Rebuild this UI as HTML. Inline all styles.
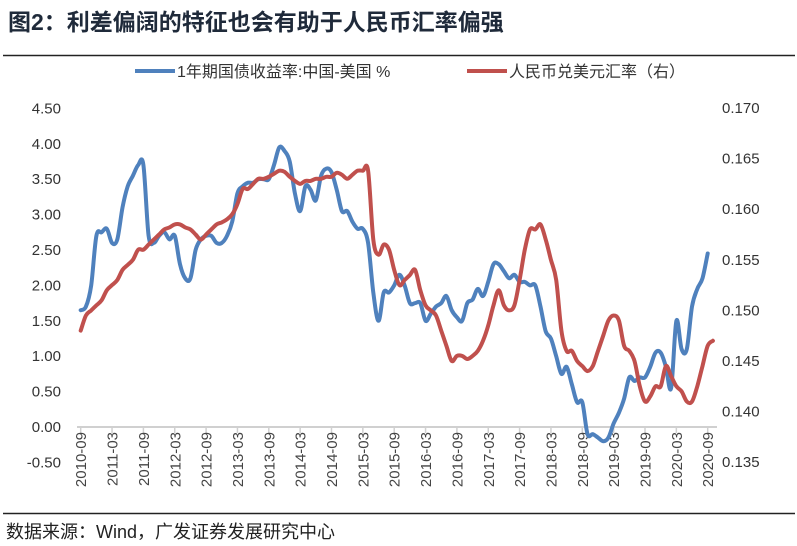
<!DOCTYPE html>
<html><head><meta charset="utf-8"><style>
body{margin:0;background:#fff;}
svg{display:block;font-family:"Liberation Sans","Noto Sans CJK SC",sans-serif;}
</style></head><body>
<svg id="chart" width="797" height="546">
<text x="8" y="30" font-size="23" font-weight="bold" fill="#1f2a3a">图2：利差偏阔的特征也会有助于人民币汇率偏强</text>
<line x1="3" y1="55.5" x2="795" y2="55.5" stroke="#222" stroke-width="1.5"/>
<g>
<g><line x1="135" y1="71" x2="175" y2="71" stroke="#4f81bd" stroke-width="4"/><text x="177" y="77" font-size="16" fill="#333">1年期国债收益率:中国-美国 %</text></g>
<g><line x1="467" y1="71" x2="507" y2="71" stroke="#c0504d" stroke-width="4"/><text x="509" y="77" font-size="16" fill="#333">人民币兑美元汇率（右）</text></g>
</g>
<g id="axes"></g>
<g id="series"></g>
<line x1="3" y1="513.5" x2="795" y2="513.5" stroke="#222" stroke-width="1.5"/>
<text x="6" y="538" font-size="18" fill="#222">数据来源：Wind，广发证券发展研究中心</text>
</svg>
<script>
const leftTicks=["4.50","4.00","3.50","3.00","2.50","2.00","1.50","1.00","0.50","0.00","-0.50"];
const rightTicks=["0.170","0.165","0.160","0.155","0.150","0.145","0.140","0.135"];
const xLabels=["2010-09","2011-03","2011-09","2012-03","2012-09","2013-03","2013-09","2014-03","2014-09","2015-03","2015-09","2016-03","2016-09","2017-03","2017-09","2018-03","2018-09","2019-03","2019-09","2020-03","2020-09"];
const spread=[1.65,1.7,2.0,2.7,2.75,2.8,2.6,2.65,3.1,3.4,3.55,3.7,3.7,2.7,2.6,2.7,2.75,2.65,2.7,2.3,2.1,2.1,2.5,2.65,2.7,2.7,2.6,2.6,2.7,2.9,3.3,3.4,3.45,3.45,3.5,3.5,3.5,3.7,3.95,3.9,3.75,3.3,3.05,3.4,3.35,3.2,3.55,3.65,3.6,3.35,3.05,3.05,2.9,2.8,2.8,2.6,1.9,1.5,1.9,1.9,2.0,2.15,2.0,1.75,1.75,1.75,1.5,1.6,1.7,1.75,1.85,1.65,1.55,1.5,1.75,1.8,1.95,1.85,2.05,2.3,2.3,2.2,2.1,2.15,2.05,2.05,2.0,2.0,1.7,1.35,1.25,1.0,0.75,0.85,0.6,0.35,0.35,-0.1,-0.1,-0.15,-0.2,-0.15,0.05,0.2,0.4,0.7,0.65,0.7,0.7,0.85,1.05,1.05,0.85,0.55,1.5,1.1,1.1,1.7,1.95,2.1,2.45];
const cny=[0.148,0.1495,0.150,0.1505,0.151,0.152,0.1525,0.153,0.154,0.1545,0.155,0.156,0.156,0.1565,0.157,0.1575,0.158,0.1582,0.1585,0.1585,0.1582,0.158,0.1575,0.157,0.1575,0.158,0.1585,0.1587,0.159,0.1595,0.1605,0.162,0.162,0.1625,0.163,0.163,0.1632,0.1635,0.1638,0.1637,0.1632,0.1628,0.1625,0.1628,0.1628,0.163,0.163,0.1632,0.1632,0.1636,0.1634,0.163,0.1634,0.1638,0.1638,0.1638,0.157,0.1555,0.1565,0.156,0.154,0.1525,0.153,0.1535,0.154,0.152,0.1505,0.150,0.1495,0.148,0.1465,0.145,0.1455,0.1455,0.1452,0.1455,0.146,0.147,0.1485,0.1505,0.152,0.1505,0.150,0.1505,0.153,0.156,0.158,0.158,0.1585,0.157,0.155,0.153,0.148,0.146,0.146,0.145,0.1445,0.144,0.1445,0.146,0.1475,0.149,0.1495,0.149,0.1465,0.146,0.145,0.1425,0.141,0.1415,0.1425,0.1425,0.1445,0.1435,0.1425,0.142,0.141,0.141,0.1425,0.1445,0.1465,0.147];
const NS="http://www.w3.org/2000/svg";
const X0=80.7,MW=5.225;
function xm(m){return X0+m*MW;}
function yL(v){return 427-v*70.8;}
function yR(v){return 108+(0.170-v)/0.005*50.6;}
function mk(t,a,p){const e=document.createElementNS(NS,t);for(const k in a)e.setAttribute(k,a[k]);p.appendChild(e);return e;}
const ax=document.getElementById('axes'),se=document.getElementById('series');
leftTicks.forEach((t,i)=>{const e=mk('text',{x:61,y:yL(parseFloat(t))+5,'font-size':15,'text-anchor':'end',fill:'#333'},ax);e.textContent=t;

});
rightTicks.forEach(t=>{const e=mk('text',{x:722,y:yR(parseFloat(t))+5,'font-size':15,fill:'#333'},ax);e.textContent=t;

});
const axl=mk('line',{x1:77,y1:yL(0),x2:717,y2:yL(0),stroke:'#d0d0d0','stroke-width':2},ax);


xLabels.forEach((t,i)=>{const x=xm(i*6);
const tk=mk('line',{x1:x,y1:yL(0),x2:x,y2:yL(0)+6,stroke:'#d0d0d0','stroke-width':1.5},ax);


const e=mk('text',{x:0,y:0,'font-size':15,'text-anchor':'end',fill:'#444',transform:`translate(${x+5.5},${yL(0)+5}) rotate(-90)`},ax);e.textContent=t;

});
function path(arr,fy){const p=arr.map((v,i)=>[xm(i),fy(v)]);let d='M'+p[0][0].toFixed(1)+','+p[0][1].toFixed(1);
for(let i=0;i<p.length-1;i++){const a=p[Math.max(0,i-1)],b=p[i],c=p[i+1],e=p[Math.min(p.length-1,i+2)];
const c1=[b[0]+(c[0]-a[0])/6,b[1]+(c[1]-a[1])/6],c2=[c[0]-(e[0]-b[0])/6,c[1]-(e[1]-b[1])/6];
d+=' C'+c1.map(n=>n.toFixed(1)).join(',')+' '+c2.map(n=>n.toFixed(1)).join(',')+' '+c[0].toFixed(1)+','+c[1].toFixed(1);}
return d;}
const pb=mk('path',{d:path(spread,yL),fill:'none',stroke:'#4f81bd','stroke-width':4,'stroke-linejoin':'round','stroke-linecap':'round'},se);


const pr=mk('path',{d:path(cny,yR),fill:'none',stroke:'#c0504d','stroke-width':4,'stroke-linejoin':'round','stroke-linecap':'round'},se);


</script>
</body></html>
